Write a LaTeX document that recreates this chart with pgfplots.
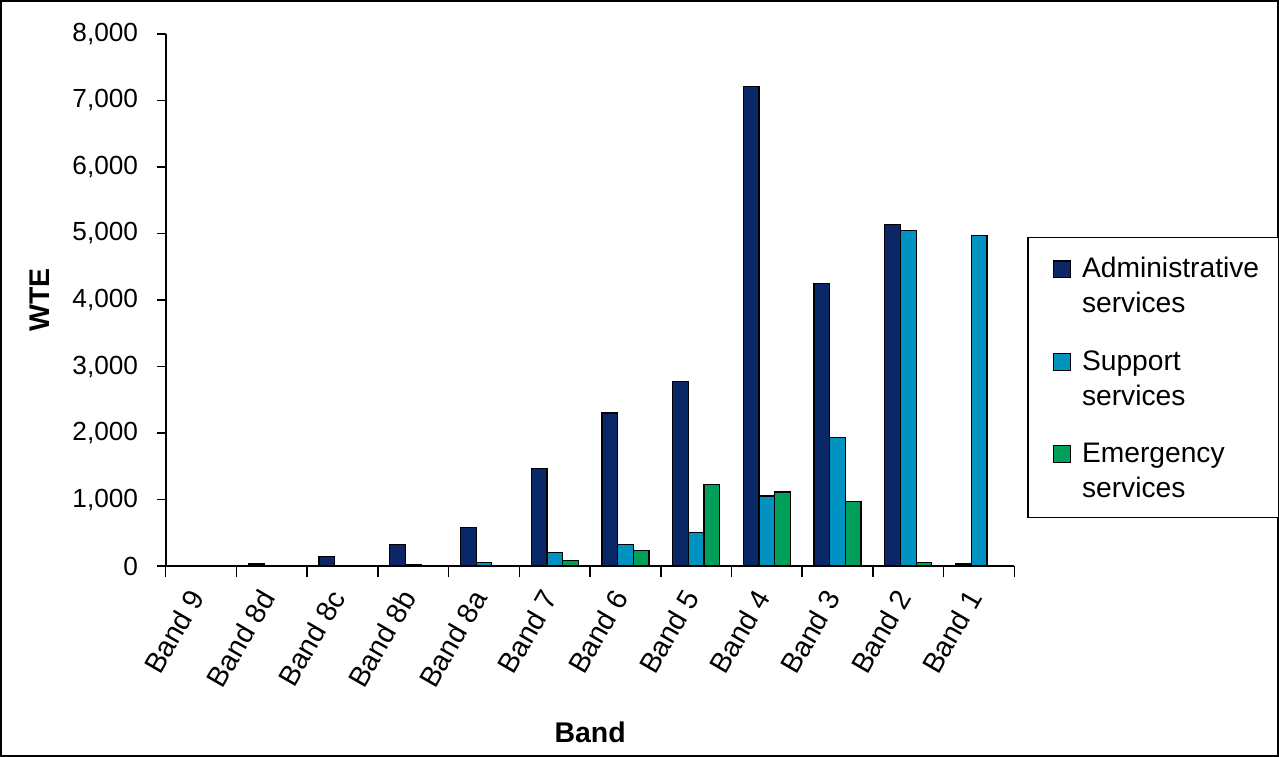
\documentclass[border=0pt]{standalone}
\usepackage{pgfplots}
\pgfplotsset{compat=1.18}
\usepackage{fontspec}
\setmainfont{Liberation Sans}
\definecolor{adm}{RGB}{10,40,104}
\definecolor{sup}{RGB}{0,146,192}
\definecolor{emg}{RGB}{0,160,90}
\newcommand\twolines[2]{\vtop{\baselineskip=14pt\hbox{#1}\hbox{#2}}}
\begin{document}
\fontsize{10.5}{12.8}\selectfont
\begin{tikzpicture}
\useasboundingbox (-0.4pt,-0.4pt) rectangle (512pt,302.8pt);
\draw[line width=0.8pt] (0,0) rectangle (511.6pt,302.4pt);
\begin{axis}[
  at={(66pt,76pt)}, anchor=south west,
  scale only axis, width=340pt, height=213.2pt,
  ybar=0pt, bar width=6.28pt,
  xmin=-0.5, xmax=11.5, ymin=0, ymax=8000,
  axis lines*=left,
  axis line style={line width=0.8pt},
  xtick={0,...,11},
  xticklabels={Band 9,Band 8d,Band 8c,Band 8b,Band 8a,Band 7,Band 6,Band 5,Band 4,Band 3,Band 2,Band 1},
  minor xtick={-0.5,0.5,...,11.5},
  major x tick style={draw=none},
  minor x tick style={black, line width=0.6pt},
  y tick style={black, line width=0.6pt},
  tick align=outside,
  major tick length=3.4pt, minor tick length=4.4pt,
  xticklabel style={font=\fontsize{11.4}{13}\selectfont, rotate=60, anchor=east, inner sep=1pt, yshift=-2pt, xshift=-6pt},
  ytick={0,1000,...,8000},
  yticklabel style={xshift=-4pt, /pgf/number format/.cd, 1000 sep={,}},
  /pgf/number format/assume math mode=true,
  ylabel={\fontsize{11.4}{13}\selectfont\bfseries WTE},
  ylabel style={at={(axis description cs:-0.149,0.5)}, anchor=center},
  xlabel={\fontsize{11.4}{13}\selectfont\bfseries Band},
  xlabel style={at={(axis description cs:0.5,-0.313)}, anchor=center},
  legend style={at={(axis description cs:1.015,0.619)}, anchor=north west,
    draw=black, line width=0.6pt, inner xsep=3.6pt, inner ysep=5pt,
    row sep=9pt, font=\fontsize{11.3}{14}\selectfont,
    nodes={text depth=, text height=, inner xsep=4.4pt, inner ysep=3pt},
    cells={anchor=base west}},
  legend image code/.code={\path (-6.4pt,0pt); \draw[#1, line width=0.5pt] (0pt,0pt) rectangle (6.8pt,6.8pt);},
  every axis plot/.append style={draw=black, line width=0.5pt},
]
\addplot[fill=adm] coordinates {(0,0) (1,30) (2,145) (3,320) (4,580) (5,1470) (6,2300) (7,2780) (8,7210) (9,4250) (10,5135) (11,30)};
\addplot[fill=sup] coordinates {(0,0) (1,0) (2,0) (3,20) (4,55) (5,200) (6,325) (7,500) (8,1055) (9,1937) (10,5040) (11,4970)};
\addplot[fill=emg] coordinates {(0,0) (1,0) (2,0) (3,0) (4,0) (5,80) (6,240) (7,1230) (8,1115) (9,970) (10,55) (11,0)};
\addlegendentry{\twolines{Administrative}{services}}
\addlegendentry{\twolines{Support}{services}}
\addlegendentry{\twolines{Emergency}{services}}
\end{axis}
\end{tikzpicture}
\end{document}
